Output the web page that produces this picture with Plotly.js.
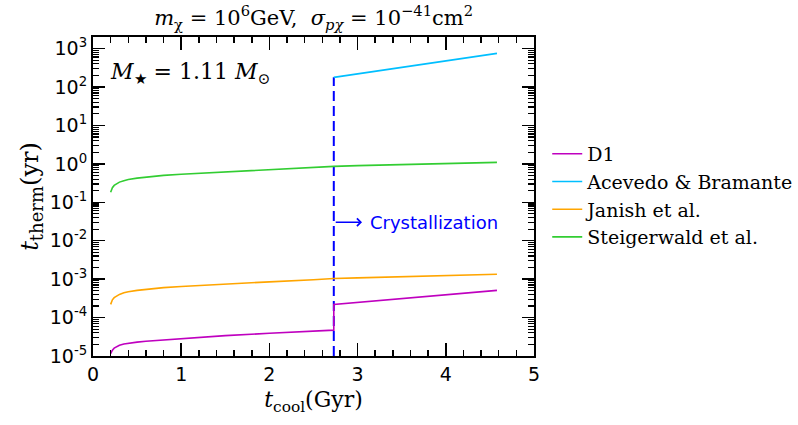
<!DOCTYPE html>
<html>
<head>
<meta charset="utf-8">
<script src="https://cdn.plot.ly/plotly-3.0.1.min.js"></script>
<style>html,body{margin:0;padding:0;background:#fff;}#chart{width:798px;height:425px;}</style>
</head>
<body>
<div id="chart"></div>
<script>
// ---- data ----
const seriesNames = ["D1", "Acevedo &amp; Bramante", "Janish et al.", "Steigerwald et al."];

const d1X = [0.2, 0.21, 0.22, 0.24, 0.27, 0.3, 0.35, 0.4, 0.5, 0.6, 0.8, 1.0, 1.5, 2.0, 2.5, 2.73, 2.73, 3.0, 3.5, 4.0, 4.58];
const d1Y = [1.15e-5, 1.3e-5, 1.42e-5, 1.6e-5, 1.78e-5, 1.9e-5, 2.05e-5, 2.15e-5, 2.3e-5, 2.42e-5, 2.62e-5, 2.85e-5, 3.4e-5, 3.9e-5, 4.4e-5, 4.7e-5, 2.2e-4, 2.5e-4, 3.1e-4, 3.9e-4, 5.1e-4];

const aceX = [2.73, 3.0, 3.5, 4.0, 4.58];
const aceY = [178, 220, 325, 475, 750];

const janX = [0.2, 0.21, 0.22, 0.24, 0.27, 0.3, 0.35, 0.4, 0.5, 0.6, 0.8, 1.0, 1.5, 2.0, 2.5, 2.73, 3.0, 3.5, 4.0, 4.58];
const janY = [2.2e-4, 2.6e-4, 2.9e-4, 3.3e-4, 3.7e-4, 4.0e-4, 4.4e-4, 4.7e-4, 5.1e-4, 5.45e-4, 6.0e-4, 6.45e-4, 7.5e-4, 8.5e-4, 9.6e-4, 1.04e-3, 1.08e-3, 1.16e-3, 1.24e-3, 1.34e-3];

const steX = [0.2, 0.21, 0.22, 0.24, 0.27, 0.3, 0.35, 0.4, 0.5, 0.6, 0.8, 1.0, 1.5, 2.0, 2.5, 2.73, 3.0, 3.5, 4.0, 4.58];
const steY = [0.183, 0.215, 0.24, 0.275, 0.31, 0.335, 0.365, 0.39, 0.425, 0.45, 0.50, 0.535, 0.62, 0.70, 0.80, 0.86, 0.90, 0.96, 1.02, 1.09];

const crystX = [2.73, 2.73];
const crystY = [1e-5, 178];

const yTickVals = [1e-5, 1e-4, 1e-3, 1e-2, 1e-1, 1e0, 1e1, 1e2, 1e3];
const yTickText = ["10<sup>-5</sup>", "10<sup>-4</sup>", "10<sup>-3</sup>", "10<sup>-2</sup>", "10<sup>-1</sup>", "10<sup>0</sup>", "10<sup>1</sup>", "10<sup>2</sup>", "10<sup>3</sup>"];

// minor tick positions on the log axis (2..9 x 10^k)
const yMinor = [];
for (let k = -5; k <= 3; k++) for (let m = 2; m <= 9; m++) yMinor.push(m * Math.pow(10, k));

const colors = ["#bf00bf", "#00bfff", "#ffa500", "#32cd32"];
const serif = "DejaVu Serif, Liberation Serif, serif";
const sans = "DejaVu Sans, sans-serif";

const traces = [
  {x: crystX, y: crystY, mode: "lines", line: {color: "#0000ff", width: 2, dash: "10px,5px"}, showlegend: false, hoverinfo: "skip"},
  {x: d1X, y: d1Y, mode: "lines", name: seriesNames[0], line: {color: colors[0], width: 1.6}},
  {x: aceX, y: aceY, mode: "lines", name: seriesNames[1], line: {color: colors[1], width: 1.6}},
  {x: janX, y: janY, mode: "lines", name: seriesNames[2], line: {color: colors[2], width: 1.6}},
  {x: steX, y: steY, mode: "lines", name: seriesNames[3], line: {color: colors[3], width: 1.6}},
  // invisible helpers so the mirrored (top / right) tick axes are drawn
  {x: d1X, y: d1Y, xaxis: "x2", yaxis: "y", mode: "lines", line: {width: 0, color: "rgba(0,0,0,0)"}, showlegend: false, hoverinfo: "skip"},
  {x: d1X, y: d1Y, xaxis: "x", yaxis: "y2", mode: "lines", line: {width: 0, color: "rgba(0,0,0,0)"}, showlegend: false, hoverinfo: "skip"}
];

const xTicksCommon = {
  range: [0, 5], dtick: 1, tick0: 0, showgrid: false, zeroline: false, automargin: false,
  ticks: "inside", ticklen: 13, tickwidth: 1.5, tickcolor: "#000",
  minor: {ticks: "inside", ticklen: 6, tickwidth: 1.5, tickcolor: "#000", dtick: 0.2, tick0: 0, showgrid: false}
};
const yTicksCommon = {
  type: "log", range: [-5, 3.301], showgrid: false, zeroline: false, automargin: false,
  tickmode: "array", tickvals: yTickVals, ticktext: yTickText,
  ticks: "inside", ticklen: 12, tickwidth: 1.5, tickcolor: "#000",
  minor: {ticks: "inside", ticklen: 6, tickwidth: 1.2, tickcolor: "#000", tickmode: "array", tickvals: yMinor, showgrid: false}
};

const layout = {
  width: 798, height: 425,
  margin: {l: 93, r: 264, t: 37, b: 69, autoexpand: false},
  paper_bgcolor: "#fff", plot_bgcolor: "#fff",
  title: {text: "<i>m</i><sub>χ</sub>&nbsp;=&nbsp;10<sup>6</sup>GeV,&nbsp;&nbsp;<i>σ</i><sub><i>pχ</i></sub>&nbsp;=&nbsp;10<sup>−41</sup>cm<sup>2</sup>",
          font: {family: serif, size: 21, color: "#000"}, x: 0.393, xanchor: "center", y: 0.958, yanchor: "middle"},
  xaxis: Object.assign({}, xTicksCommon, {
    showline: true, linecolor: "#000", linewidth: 2, mirror: true,
    tickfont: {family: sans, size: 19, color: "#000"},
    title: {text: "<i>t</i><sub>cool</sub>(Gyr)", font: {family: serif, size: 22, color: "#000"}, standoff: 8}
  }),
  yaxis: Object.assign({}, yTicksCommon, {
    showline: true, linecolor: "#000", linewidth: 2, mirror: true,
    tickfont: {family: sans, size: 19, color: "#000"},
    title: {text: "<i>t</i><sub><span style=\"font-size:18px\">therm</span></sub>(yr)", font: {family: serif, size: 24, color: "#000"}, standoff: 4}
  }),
  xaxis2: Object.assign({}, xTicksCommon, {overlaying: "x", side: "top", anchor: "y", showticklabels: false, showline: false}),
  yaxis2: Object.assign({}, yTicksCommon, {overlaying: "y", side: "right", anchor: "x", showticklabels: false, showline: false}),
  legend: {x: 1.03, xanchor: "left", y: 0.693, yanchor: "top", font: {family: serif, size: 19, color: "#000"},
           bgcolor: "rgba(0,0,0,0)", borderwidth: 0, tracegroupgap: 0},
  shapes: [
    {type: "line", xref: "x", yref: "y", x0: 2.73, x1: 2.73, y0: -1.28, y1: -1.52, line: {color: "#0000ff", width: 1.5}}
  ],
  annotations: [
    {xref: "paper", yref: "paper", x: 0.035, y: 0.885, xanchor: "left", yanchor: "middle", showarrow: false,
     text: "<i>M</i><sub>★</sub> = 1.11 <i>M</i><sub>⊙</sub>", font: {family: serif, size: 22, color: "#000"}},
    {xref: "x", yref: "y", axref: "x", ayref: "y", x: 3.05, y: -1.52, ax: 2.735, ay: -1.52, text: "",
     showarrow: true, arrowhead: 4, arrowsize: 1, arrowwidth: 1.5, arrowcolor: "#0000ff"},
    {xref: "x", yref: "y", x: 3.12, y: -1.52, xanchor: "left", yanchor: "middle", showarrow: false,
     text: "Crystallization", font: {family: sans, size: 18, color: "#0000ff"}}
  ]
};

Plotly.newPlot("chart", traces, layout, {displayModeBar: false, staticPlot: true});
</script>
</body>
</html>
